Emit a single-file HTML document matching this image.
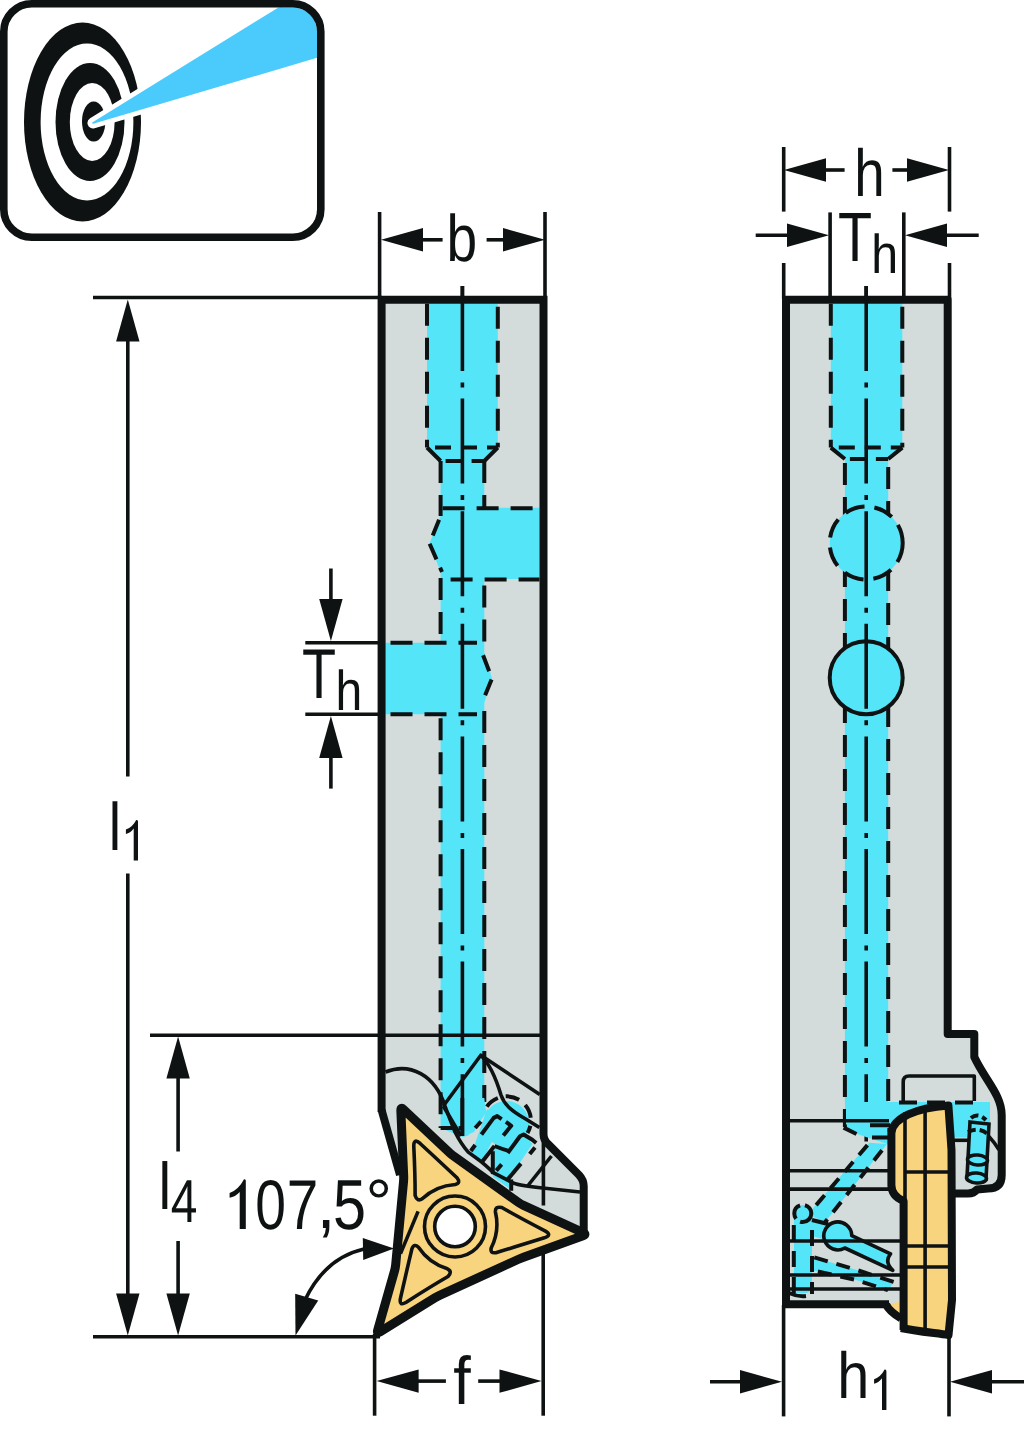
<!DOCTYPE html>
<html><head><meta charset="utf-8"><style>
html,body{margin:0;padding:0;background:#fff;overflow:hidden;}
svg{display:block;}
text{text-rendering:geometricPrecision;}
</style></head><body>
<svg width="1024" height="1431" viewBox="0 0 1024 1431">
<rect width="1024" height="1431" fill="#fff"/>
<defs><clipPath id="ic"><rect x="7.5" y="7.5" width="309.5" height="225.5" rx="24"/></clipPath></defs>
<ellipse cx="82.5" cy="122" rx="58.5" ry="99.5" fill="#0e1213"/>
<ellipse cx="87" cy="122" rx="46.4" ry="78.5" fill="#fff"/>
<ellipse cx="90" cy="122" rx="34.5" ry="59" fill="#0e1213"/>
<ellipse cx="92.2" cy="122" rx="22.4" ry="39" fill="#fff"/>
<ellipse cx="93.7" cy="121.5" rx="11.7" ry="20" fill="#0e1213"/>
<g clip-path="url(#ic)"><path d="M93.00 123.00 L292.00 0.00 L340.00 0.00 L340.00 50.30 Z" fill="#fff" stroke="#fff" stroke-width="11" stroke-linejoin="round"/><path d="M93.00 123.00 L292.00 0.00 L340.00 0.00 L340.00 50.30 Z" fill="#4bcbfc" stroke="#4bcbfc" stroke-width="1.5" stroke-linejoin="round"/></g>
<rect x="3.8" y="3.8" width="317" height="233.4" rx="28" fill="none" stroke="#0e1213" stroke-width="7.6"/>
<path d="M381.60 299.70 L543.50 299.70 L543.50 1137.00 L583.70 1178.00 L583.70 1236.00 L455.00 1226.00 L399.00 1178.00 L381.60 1112.00 Z" fill="#d4dcdb"/>
<path d="M427 303.7 L497.8 303.7 L497.8 447.5 L484.3 461 L484.3 507.7 L539.5 507.7 L539.5 579 L484.3 579 L484.3 652.5 L492 678.5 L484.3 703 L484.3 1102 L486 1112 L474 1132 L462.4 1137 L440.6 1128 L440.6 714.3 L385.5 714.3 L385.5 642.8 L440.6 642.8 L440.6 572 L429.5 543.5 L440.6 516 L440.6 461 L427 447.5 Z" fill="#55e5f8"/>
<path d="M427 303.7 L427 447.5" fill="none" stroke="#0e1213" stroke-width="4" stroke-linejoin="round" stroke-linecap="butt" stroke-dasharray="22 12" stroke-dashoffset="0"/>
<path d="M497.8 303.7 L497.8 447.5" fill="none" stroke="#0e1213" stroke-width="4" stroke-linejoin="round" stroke-linecap="butt" stroke-dasharray="22 12" stroke-dashoffset="-3"/>
<path d="M427 447.5 L497.8 447.5" fill="none" stroke="#0e1213" stroke-width="4" stroke-linejoin="round" stroke-linecap="butt" stroke-dasharray="16 10" stroke-dashoffset="-8"/>
<path d="M427 447.5 L440.6 461" fill="none" stroke="#0e1213" stroke-width="4" stroke-linejoin="round" stroke-linecap="butt"/>
<path d="M497.8 447.5 L484.3 461" fill="none" stroke="#0e1213" stroke-width="4" stroke-linejoin="round" stroke-linecap="butt"/>
<path d="M440.6 461 L484.3 461" fill="none" stroke="#0e1213" stroke-width="4" stroke-linejoin="round" stroke-linecap="butt" stroke-dasharray="16 10" stroke-dashoffset="-5"/>
<path d="M440.6 461 L440.6 516" fill="none" stroke="#0e1213" stroke-width="4" stroke-linejoin="round" stroke-linecap="butt" stroke-dasharray="22 12" stroke-dashoffset="0"/>
<path d="M484.3 461 L484.3 508.3" fill="none" stroke="#0e1213" stroke-width="4" stroke-linejoin="round" stroke-linecap="butt" stroke-dasharray="22 12" stroke-dashoffset="0"/>
<path d="M440.6 508.3 L539.5 508.3" fill="none" stroke="#0e1213" stroke-width="4" stroke-linejoin="round" stroke-linecap="butt" stroke-dasharray="22 12" stroke-dashoffset="-2"/>
<path d="M440.6 516 L429.5 543.5 L442 572" fill="none" stroke="#0e1213" stroke-width="4" stroke-linejoin="round" stroke-linecap="butt" stroke-dasharray="17 9" stroke-dashoffset="-4"/>
<path d="M440.6 579.4 L539.5 579.4" fill="none" stroke="#0e1213" stroke-width="4" stroke-linejoin="round" stroke-linecap="butt" stroke-dasharray="22 12" stroke-dashoffset="-10"/>
<path d="M440.6 572 L440.6 642.8" fill="none" stroke="#0e1213" stroke-width="4" stroke-linejoin="round" stroke-linecap="butt" stroke-dasharray="22 12" stroke-dashoffset="-6"/>
<path d="M484.3 579.4 L484.3 652.5" fill="none" stroke="#0e1213" stroke-width="4" stroke-linejoin="round" stroke-linecap="butt" stroke-dasharray="22 12" stroke-dashoffset="-6"/>
<path d="M385.5 642.8 L477 642.8" fill="none" stroke="#0e1213" stroke-width="4" stroke-linejoin="round" stroke-linecap="butt" stroke-dasharray="22 12" stroke-dashoffset="-5"/>
<path d="M482 652.5 L492 678.5 L482 703" fill="none" stroke="#0e1213" stroke-width="4" stroke-linejoin="round" stroke-linecap="butt" stroke-dasharray="17 9" stroke-dashoffset="-3"/>
<path d="M385.5 714.3 L477 714.3" fill="none" stroke="#0e1213" stroke-width="4" stroke-linejoin="round" stroke-linecap="butt" stroke-dasharray="22 12" stroke-dashoffset="-5"/>
<path d="M440.6 714.3 L440.6 1128" fill="none" stroke="#0e1213" stroke-width="4" stroke-linejoin="round" stroke-linecap="butt" stroke-dasharray="22 12" stroke-dashoffset="-4"/>
<path d="M484.3 703 L484.3 1102" fill="none" stroke="#0e1213" stroke-width="4" stroke-linejoin="round" stroke-linecap="butt" stroke-dasharray="22 12" stroke-dashoffset="-8"/>
<path d="M440.6 1128 L462 1128" fill="none" stroke="#0e1213" stroke-width="4" stroke-linejoin="round" stroke-linecap="butt" stroke-dasharray="12 6" stroke-dashoffset="0"/>
<path d="M462.4 286 L462.4 1135" fill="none" stroke="#0e1213" stroke-width="3.6" stroke-linejoin="round" stroke-linecap="butt" stroke-dasharray="85 11.5 5 11.1" stroke-dashoffset="0"/>
<line x1="150" y1="1035.2" x2="543.5" y2="1035.2" stroke="#0e1213" stroke-width="3.6" stroke-linecap="butt"/>
<circle cx="506.3" cy="1124" r="23" fill="#55e5f8"/>
<path d="M462.4 1098 L484.3 1098 L486 1113 L468.2 1135.4 L462.4 1137 Z" fill="#55e5f8"/>
<path d="M487 1109 L502 1121 L482.2 1161.5 L472 1152.5 Z" fill="#55e5f8"/>
<path d="M514 1125 L532.5 1144 L508.6 1179.4 L512 1190.5 L492.8 1176.7 L493.7 1151.2 Z" fill="#55e5f8"/>
<path d="M385.5 1072 C 410 1062, 435 1075, 445 1106 C 450 1120, 453 1127, 455 1132 Q 461.2 1144.2 468.2 1152.1 L481.4 1161.8 Q 490 1169 492.8 1172.3 L511.2 1182 Q 516 1185.5 545 1188.2 L580 1192" fill="none" stroke="#0e1213" stroke-width="3.6" stroke-linejoin="round" stroke-linecap="butt"/>
<path d="M443.3 1106 L480.8 1055.2 L539.8 1094.6" fill="none" stroke="#0e1213" stroke-width="3.6" stroke-linejoin="round" stroke-linecap="butt"/>
<line x1="443.3" y1="1106" x2="461" y2="1136" stroke="#0e1213" stroke-width="3.6" stroke-linecap="butt"/>
<path d="M480.8 1055.2 C 492 1066, 498 1085, 501 1095 C 504 1104, 510 1110, 525.3 1118.7 L539.4 1127.5" fill="none" stroke="#0e1213" stroke-width="3.6" stroke-linejoin="round" stroke-linecap="butt"/>
<path d="M485.8 1108.2 A23 23 0 0 1 527.5 1133" fill="none" stroke="#0e1213" stroke-width="4" stroke-linejoin="round" stroke-linecap="butt" stroke-dasharray="14 8" stroke-dashoffset="-2"/>
<path d="M481.4 1134.5 L493.7 1117.9 L497.2 1116.1 L507.7 1123.1 L511.2 1125.8 L503.3 1135.4" fill="none" stroke="#0e1213" stroke-width="4" stroke-linejoin="round" stroke-linecap="butt" stroke-dasharray="30 5 40" stroke-dashoffset="0"/>
<path d="M507.7 1153 L520 1136.3 L523.6 1134.5 L532.3 1139.8 L537.6 1144.2 L529.7 1153.9" fill="none" stroke="#0e1213" stroke-width="4" stroke-linejoin="round" stroke-linecap="butt" stroke-dasharray="40 6 20" stroke-dashoffset="0"/>
<path d="M494.5 1146 Q 502 1149 509.5 1151.2" fill="none" stroke="#0e1213" stroke-width="4" stroke-linejoin="round" stroke-linecap="butt"/>
<path d="M494.5 1146 L482.2 1161.8" fill="none" stroke="#0e1213" stroke-width="4" stroke-linejoin="round" stroke-linecap="butt"/>
<path d="M475.2 1128 L481 1121.5" fill="none" stroke="#0e1213" stroke-width="4" stroke-linejoin="round" stroke-linecap="butt"/>
<path d="M470.8 1151 L475.2 1145" fill="none" stroke="#0e1213" stroke-width="4" stroke-linejoin="round" stroke-linecap="butt"/>
<line x1="492.8" y1="1151.2" x2="492.8" y2="1174.1" stroke="#0e1213" stroke-width="4" stroke-linecap="butt"/>
<path d="M496.3 1170.6 L501.6 1164.4" fill="none" stroke="#0e1213" stroke-width="4" stroke-linejoin="round" stroke-linecap="butt"/>
<path d="M520.9 1163.6 L507.7 1179.4" fill="none" stroke="#0e1213" stroke-width="4" stroke-linejoin="round" stroke-linecap="butt"/>
<line x1="511.2" y1="1179.4" x2="511.2" y2="1190.8" stroke="#0e1213" stroke-width="4" stroke-linecap="butt"/>
<path d="M462.4 1098 L462.4 1136" fill="none" stroke="#0e1213" stroke-width="4" stroke-linejoin="round" stroke-linecap="butt"/>
<line x1="543.4" y1="1130" x2="543.4" y2="1205.5" stroke="#0e1213" stroke-width="3.6" stroke-linecap="butt"/>
<line x1="528" y1="1185.5" x2="551.5" y2="1156" stroke="#0e1213" stroke-width="3.6" stroke-linecap="butt"/>
<path d="M381.6 1112 L381.6 299.7 L543.5 299.7 L543.5 1134 Q543.5 1140 548 1144 L579 1175 Q583.7 1180 583.7 1186 L583.7 1236" fill="none" stroke="#0e1213" stroke-width="8" stroke-linejoin="miter" stroke-linecap="butt"/>
<path d="M381.6 1110 L400 1175" fill="none" stroke="#0e1213" stroke-width="8" stroke-linejoin="round" stroke-linecap="butt"/>
<line x1="93" y1="297.5" x2="381.6" y2="297.5" stroke="#0e1213" stroke-width="3.6" stroke-linecap="butt"/>
<path d="M127.80 299.50 L139.50 341.50 L116.10 341.50 Z" fill="#0e1213"/>
<line x1="127.8" y1="340" x2="127.8" y2="776.5" stroke="#0e1213" stroke-width="3.6" stroke-linecap="butt"/>
<line x1="127.8" y1="873.6" x2="127.8" y2="1296" stroke="#0e1213" stroke-width="3.6" stroke-linecap="butt"/>
<path d="M127.80 1335.50 L116.10 1293.50 L139.50 1293.50 Z" fill="#0e1213"/>
<line x1="93" y1="1336.8" x2="380" y2="1336.8" stroke="#0e1213" stroke-width="3.6" stroke-linecap="butt"/>
<path d="M178.10 1036.50 L189.80 1078.50 L166.40 1078.50 Z" fill="#0e1213"/>
<line x1="178.1" y1="1077" x2="178.1" y2="1151.5" stroke="#0e1213" stroke-width="3.6" stroke-linecap="butt"/>
<line x1="178.1" y1="1241" x2="178.1" y2="1294" stroke="#0e1213" stroke-width="3.6" stroke-linecap="butt"/>
<path d="M178.10 1335.50 L166.40 1293.50 L189.80 1293.50 Z" fill="#0e1213"/>
<line x1="379.6" y1="212" x2="379.6" y2="299" stroke="#0e1213" stroke-width="3.6" stroke-linecap="butt"/>
<line x1="545" y1="212" x2="545" y2="299" stroke="#0e1213" stroke-width="3.6" stroke-linecap="butt"/>
<line x1="462.4" y1="286" x2="462.4" y2="300" stroke="#0e1213" stroke-width="3.6" stroke-linecap="butt"/>
<path d="M381.00 239.80 L423.00 228.10 L423.00 251.50 Z" fill="#0e1213"/>
<line x1="420" y1="239.8" x2="442.6" y2="239.8" stroke="#0e1213" stroke-width="3.6" stroke-linecap="butt"/>
<path d="M545.00 239.80 L503.00 251.50 L503.00 228.10 Z" fill="#0e1213"/>
<line x1="486.6" y1="239.8" x2="505" y2="239.8" stroke="#0e1213" stroke-width="3.6" stroke-linecap="butt"/>
<line x1="305.3" y1="642.8" x2="381" y2="642.8" stroke="#0e1213" stroke-width="3.6" stroke-linecap="butt"/>
<line x1="305.3" y1="714.3" x2="381" y2="714.3" stroke="#0e1213" stroke-width="3.6" stroke-linecap="butt"/>
<line x1="330.9" y1="568.5" x2="330.9" y2="602" stroke="#0e1213" stroke-width="3.6" stroke-linecap="butt"/>
<path d="M330.90 641.00 L319.20 599.00 L342.60 599.00 Z" fill="#0e1213"/>
<line x1="330.9" y1="755" x2="330.9" y2="788.6" stroke="#0e1213" stroke-width="3.6" stroke-linecap="butt"/>
<path d="M330.90 716.00 L342.60 758.00 L319.20 758.00 Z" fill="#0e1213"/>
<line x1="374.6" y1="1334" x2="374.6" y2="1415.7" stroke="#0e1213" stroke-width="3.6" stroke-linecap="butt"/>
<line x1="543.2" y1="1240" x2="543.2" y2="1415.7" stroke="#0e1213" stroke-width="3.6" stroke-linecap="butt"/>
<path d="M376.60 1381.10 L418.60 1369.40 L418.60 1392.80 Z" fill="#0e1213"/>
<line x1="415" y1="1381.1" x2="445.9" y2="1381.1" stroke="#0e1213" stroke-width="3.6" stroke-linecap="butt"/>
<path d="M541.50 1381.10 L499.50 1392.80 L499.50 1369.40 Z" fill="#0e1213"/>
<line x1="478.2" y1="1381.1" x2="502" y2="1381.1" stroke="#0e1213" stroke-width="3.6" stroke-linecap="butt"/>
<path d="M364 1249 Q 325 1258 305 1300" fill="none" stroke="#0e1213" stroke-width="3.6" stroke-linejoin="round" stroke-linecap="butt"/>
<path d="M394.00 1248.50 L363.23 1260.12 L362.79 1238.12 Z" fill="#0e1213"/>
<path d="M295.50 1335.50 L295.18 1293.74 L318.22 1300.46 Z" fill="#0e1213"/>
<path d="M583.13 1232.66 Q586.77 1234.33 583.01 1235.69 L523.54 1257.25 Q520.72 1258.27 517.99 1259.52 L440.07 1295.06 Q437.34 1296.30 434.79 1297.88 L379.98 1331.93 Q376.58 1334.04 377.67 1330.20 L394.58 1270.66 Q395.39 1267.77 395.68 1264.79 L403.52 1181.75 Q403.81 1178.76 403.68 1175.76 L400.85 1110.74 Q400.68 1106.75 403.59 1109.48 L449.82 1152.91 Q452.00 1154.96 454.44 1156.71 L518.35 1202.36 Q520.79 1204.10 523.52 1205.35 Z" fill="#f9d47f" stroke="#0e1213" stroke-width="9" stroke-linejoin="round" stroke-linecap="butt"/>
<circle cx="455" cy="1226.5" r="30.5" fill="none" stroke="#0e1213" stroke-width="3.6"/>
<circle cx="455" cy="1226.5" r="20.3" fill="#fff" stroke="#0e1213" stroke-width="3.6"/>
<path d="M45 -23 Q 62 -15 90 -3.5 Q 98 0 90 3.5 Q 62 15 43 22.5 Q 37 24 38 18 Q 45 0 39 -18 Q 38 -24 45 -23 Z" fill="none" stroke="#0e1213" stroke-width="3.6" stroke-linejoin="round" transform="translate(455,1226.5) rotate(5)"/>
<path d="M45 -23 Q 62 -15 90 -3.5 Q 98 0 90 3.5 Q 62 15 43 22.5 Q 37 24 38 18 Q 45 0 39 -18 Q 38 -24 45 -23 Z" fill="none" stroke="#0e1213" stroke-width="3.6" stroke-linejoin="round" transform="translate(455,1226.5) rotate(125)"/>
<path d="M45 -23 Q 62 -15 90 -3.5 Q 98 0 90 3.5 Q 62 15 43 22.5 Q 37 24 38 18 Q 45 0 39 -18 Q 38 -24 45 -23 Z" fill="none" stroke="#0e1213" stroke-width="3.6" stroke-linejoin="round" transform="translate(455,1226.5) rotate(245)"/>
<line x1="418.1" y1="1211.4" x2="400.5" y2="1253.6" stroke="#0e1213" stroke-width="3.6" stroke-linecap="butt"/>
<path d="M786 299.7 L947.7 299.7 L947.7 1034 L974.3 1034 L974.3 1057 C 985 1080, 1001.7 1095, 1001.7 1115 L1001.7 1177 Q1001.7 1189 990 1189 L974 1190 L930 1193 L930 1305 L786 1305 Z" fill="#d4dcdb"/>
<path d="M830.8 303.7 L902.3 303.7 L902.3 447.6 L888.2 459 L888.2 1127 L857 1133 L844.9 1127 L844.9 459 L830.8 447.6 Z" fill="#55e5f8"/>
<path d="M830.8 303.7 L830.8 447.6" fill="none" stroke="#0e1213" stroke-width="4" stroke-linejoin="round" stroke-linecap="butt" stroke-dasharray="22 12" stroke-dashoffset="0"/>
<path d="M902.3 303.7 L902.3 447.6" fill="none" stroke="#0e1213" stroke-width="4" stroke-linejoin="round" stroke-linecap="butt" stroke-dasharray="22 12" stroke-dashoffset="-3"/>
<path d="M830.8 447.6 L844.9 459 M902.3 447.6 L888.2 459" fill="none" stroke="#0e1213" stroke-width="4" stroke-linejoin="round" stroke-linecap="butt"/>
<path d="M830.8 447.6 L902.3 447.6" fill="none" stroke="#0e1213" stroke-width="4" stroke-linejoin="round" stroke-linecap="butt" stroke-dasharray="16 10" stroke-dashoffset="-8"/>
<path d="M844.9 459 L888.2 459" fill="none" stroke="#0e1213" stroke-width="4" stroke-linejoin="round" stroke-linecap="butt" stroke-dasharray="16 10" stroke-dashoffset="-5"/>
<path d="M844.9 459 L844.9 1127" fill="none" stroke="#0e1213" stroke-width="4" stroke-linejoin="round" stroke-linecap="butt" stroke-dasharray="22 12" stroke-dashoffset="-4"/>
<path d="M888.2 459 L888.2 1102" fill="none" stroke="#0e1213" stroke-width="4" stroke-linejoin="round" stroke-linecap="butt" stroke-dasharray="22 12" stroke-dashoffset="-8"/>
<circle cx="866.2" cy="543" r="36.5" fill="#55e5f8" stroke="#0e1213" stroke-width="4" stroke-dasharray="20 10"/>
<circle cx="866.2" cy="677.7" r="36.5" fill="#55e5f8" stroke="#0e1213" stroke-width="4"/>
<path d="M866.2 286 L866.2 1141.6" fill="none" stroke="#0e1213" stroke-width="3.6" stroke-linejoin="round" stroke-linecap="butt" stroke-dasharray="85 11.5 5 11.1" stroke-dashoffset="0"/>
<path d="M846 1102 L990 1102 L990 1137.6 L951 1137.6 L887 1144 L857 1134 L846 1124 Z" fill="#55e5f8"/>
<path d="M869.4 1142.8 L887 1144 L824.8 1222.5 L808 1214 Z" fill="#55e5f8"/>
<path d="M794 1210 L812 1210 L812 1290 Q 805 1296 794 1292 Z" fill="#55e5f8"/>
<path d="M812 1218 L830 1226 L826 1240 L812 1236 Z" fill="#55e5f8"/>
<path d="M814.3 1257.4 L857.7 1270.3 L894 1282 L888 1290.2 L855.3 1279.7 L812 1270.3 Z" fill="#55e5f8"/>
<path d="M869.4 1142.8 L814.3 1207.3" fill="none" stroke="#0e1213" stroke-width="4" stroke-linejoin="round" stroke-linecap="butt" stroke-dasharray="13 9" stroke-dashoffset="-3"/>
<path d="M887 1144 L824.8 1222.5" fill="none" stroke="#0e1213" stroke-width="4" stroke-linejoin="round" stroke-linecap="butt" stroke-dasharray="13 9" stroke-dashoffset="-8"/>
<path d="M843.6 1127.6 L856.5 1134" fill="none" stroke="#0e1213" stroke-width="4" stroke-linejoin="round" stroke-linecap="butt"/>
<path d="M870 1125.2 L890 1125.2 M 872 1137.5 L888 1137.5" fill="none" stroke="#0e1213" stroke-width="4" stroke-linejoin="round" stroke-linecap="butt"/>
<circle cx="802.8" cy="1213.5" r="8.5" fill="#55e5f8" stroke="#0e1213" stroke-width="4" stroke-dasharray="16 5"/>
<path d="M793.8 1225 L793.8 1293" fill="none" stroke="#0e1213" stroke-width="4" stroke-linejoin="round" stroke-linecap="butt" stroke-dasharray="16 10" stroke-dashoffset="0"/>
<path d="M812 1224 L812 1294" fill="none" stroke="#0e1213" stroke-width="4" stroke-linejoin="round" stroke-linecap="butt" stroke-dasharray="16 10" stroke-dashoffset="-6"/>
<path d="M812 1220 L828 1224" fill="none" stroke="#0e1213" stroke-width="4" stroke-linejoin="round" stroke-linecap="butt"/>
<path d="M814.3 1257.4 L857.7 1270.3 L894 1282" fill="none" stroke="#0e1213" stroke-width="4" stroke-linejoin="round" stroke-linecap="butt" stroke-dasharray="14 9" stroke-dashoffset="0"/>
<path d="M812 1270.3 L855.3 1279.7 L888 1290.2" fill="none" stroke="#0e1213" stroke-width="4" stroke-linejoin="round" stroke-linecap="butt" stroke-dasharray="14 9" stroke-dashoffset="-6"/>
<path d="M789 1293 Q 798 1297 806 1296" fill="none" stroke="#0e1213" stroke-width="4" stroke-linejoin="round" stroke-linecap="butt"/>
<path d="M851.8 1235.7 L890.5 1253.9 Q 884 1262 892.8 1270.3 L844.8 1248 A 14 14 0 1 1 851.8 1235.7 Z" fill="#55e5f8" stroke="#0e1213" stroke-width="3.6" stroke-linejoin="round"/>
<line x1="789" y1="1120.8" x2="889" y2="1120.8" stroke="#0e1213" stroke-width="3.6" stroke-linecap="butt"/>
<line x1="789" y1="1170.7" x2="889" y2="1170.7" stroke="#0e1213" stroke-width="3.6" stroke-linecap="butt"/>
<line x1="789" y1="1189.1" x2="889" y2="1189.1" stroke="#0e1213" stroke-width="3.6" stroke-linecap="butt"/>
<line x1="789" y1="1241" x2="901" y2="1241" stroke="#0e1213" stroke-width="3.6" stroke-linecap="butt"/>
<line x1="789" y1="1275" x2="901" y2="1275" stroke="#0e1213" stroke-width="3.6" stroke-linecap="butt"/>
<line x1="789" y1="1289" x2="901" y2="1289" stroke="#0e1213" stroke-width="3.6" stroke-linecap="butt"/>
<path d="M903.2 1101.4 L903.2 1082 Q903.2 1076 909 1076 L974.3 1076 L974.3 1101" fill="none" stroke="#0e1213" stroke-width="3.6" stroke-linejoin="round" stroke-linecap="butt"/>
<path d="M899 1102.4 L977 1102.4" fill="none" stroke="#0e1213" stroke-width="4" stroke-linejoin="round" stroke-linecap="butt" stroke-dasharray="18 10" stroke-dashoffset="0"/>
<line x1="954" y1="1140.3" x2="978" y2="1140.3" stroke="#0e1213" stroke-width="3.6" stroke-linecap="butt"/>
<path d="M978.4 1128 Q 990 1135 999 1149.9" fill="none" stroke="#0e1213" stroke-width="3.6" stroke-linejoin="round" stroke-linecap="butt"/>
<path d="M970 1122 L989 1124 L986 1179 L967 1177 Z" fill="#55e5f8" stroke="#0e1213" stroke-width="3.6"/>
<ellipse cx="976.5" cy="1178" rx="10" ry="5" fill="#55e5f8" stroke="#0e1213" stroke-width="3.6" transform="rotate(4 976.5 1178)"/>
<ellipse cx="977.5" cy="1160" rx="10" ry="5" fill="#55e5f8" stroke="#0e1213" stroke-width="3.6" transform="rotate(4 977.5 1160)"/>
<path d="M971 1118 Q 978 1112 986 1120 M 968 1132 Q 980 1126 990 1136" fill="none" stroke="#0e1213" stroke-width="4" stroke-linejoin="round" stroke-linecap="butt" stroke-dasharray="8 4" stroke-dashoffset="0"/>
<path d="M891.4 1132 C 894 1118, 915 1108, 948.4 1105.5 L951.5 1150 L952 1300 L948.5 1335 C 935 1333, 915 1331, 901 1328 L901 1320 L888 1305 L903.6 1300 L903.6 1201 C 896 1198, 891.4 1195, 891.4 1185 Z" fill="#f9d47f"/>
<line x1="925.1" y1="1108" x2="925.1" y2="1333" stroke="#0e1213" stroke-width="3.6" stroke-linecap="butt"/>
<line x1="905" y1="1172" x2="951" y2="1172" stroke="#0e1213" stroke-width="3.6" stroke-linecap="butt"/>
<line x1="903.6" y1="1246" x2="951" y2="1246" stroke="#0e1213" stroke-width="3.6" stroke-linecap="butt"/>
<line x1="903.6" y1="1267" x2="951" y2="1267" stroke="#0e1213" stroke-width="3.6" stroke-linecap="butt"/>
<path d="M905 1112 L905 1200" fill="none" stroke="#0e1213" stroke-width="3.6" stroke-linejoin="round" stroke-linecap="butt"/>
<path d="M891.4 1132 C 894 1118, 915 1108, 948.4 1105.5 L951.5 1150 L952 1300 L948.5 1335 C 935 1333, 915 1331, 901 1328" fill="none" stroke="#0e1213" stroke-width="8" stroke-linejoin="round" stroke-linecap="butt"/>
<path d="M891.4 1128 L891.4 1185 Q 891.4 1196 903.6 1201 L903.6 1330" fill="none" stroke="#0e1213" stroke-width="8" stroke-linejoin="round" stroke-linecap="butt"/>
<path d="M886 1304.3 Q 889 1311 901 1318.4" fill="none" stroke="#0e1213" stroke-width="8" stroke-linejoin="round" stroke-linecap="butt"/>
<path d="M786 1305 L786 299.7 L947.7 299.7 L947.7 1034 L974.3 1034 L974.3 1057 C 985 1080, 1001.7 1095, 1001.7 1115 L1001.7 1175 Q1001.7 1188.5 988 1188.5 L977 1189.5 Q 974 1193.5 968 1193.5 L955 1193.5" fill="none" stroke="#0e1213" stroke-width="8" stroke-linejoin="round" stroke-linecap="butt"/>
<path d="M782 1304.3 L889 1304.3" fill="none" stroke="#0e1213" stroke-width="8" stroke-linejoin="round" stroke-linecap="butt"/>
<line x1="783.7" y1="147" x2="783.7" y2="211.6" stroke="#0e1213" stroke-width="3.6" stroke-linecap="butt"/>
<line x1="949.5" y1="147" x2="949.5" y2="211.6" stroke="#0e1213" stroke-width="3.6" stroke-linecap="butt"/>
<line x1="783.7" y1="263" x2="783.7" y2="299" stroke="#0e1213" stroke-width="3.6" stroke-linecap="butt"/>
<line x1="949.5" y1="263" x2="949.5" y2="299" stroke="#0e1213" stroke-width="3.6" stroke-linecap="butt"/>
<path d="M784.00 170.00 L826.00 158.30 L826.00 181.70 Z" fill="#0e1213"/>
<line x1="825" y1="170" x2="844.6" y2="170" stroke="#0e1213" stroke-width="3.6" stroke-linecap="butt"/>
<path d="M949.00 170.00 L907.00 181.70 L907.00 158.30 Z" fill="#0e1213"/>
<line x1="892.4" y1="170" x2="910" y2="170" stroke="#0e1213" stroke-width="3.6" stroke-linecap="butt"/>
<line x1="830.1" y1="212.4" x2="830.1" y2="300" stroke="#0e1213" stroke-width="3.6" stroke-linecap="butt"/>
<line x1="903.8" y1="212.4" x2="903.8" y2="300" stroke="#0e1213" stroke-width="3.6" stroke-linecap="butt"/>
<line x1="866.2" y1="286" x2="866.2" y2="300" stroke="#0e1213" stroke-width="3.6" stroke-linecap="butt"/>
<line x1="755.7" y1="235.2" x2="792" y2="235.2" stroke="#0e1213" stroke-width="3.6" stroke-linecap="butt"/>
<path d="M829.00 235.20 L787.00 246.90 L787.00 223.50 Z" fill="#0e1213"/>
<line x1="945" y1="235.2" x2="978.7" y2="235.2" stroke="#0e1213" stroke-width="3.6" stroke-linecap="butt"/>
<path d="M905.00 235.20 L947.00 223.50 L947.00 246.90 Z" fill="#0e1213"/>
<line x1="783.6" y1="1305" x2="783.6" y2="1416.4" stroke="#0e1213" stroke-width="3.6" stroke-linecap="butt"/>
<line x1="949" y1="1335" x2="949" y2="1416.4" stroke="#0e1213" stroke-width="3.6" stroke-linecap="butt"/>
<line x1="710" y1="1381.7" x2="745" y2="1381.7" stroke="#0e1213" stroke-width="3.6" stroke-linecap="butt"/>
<path d="M782.00 1381.70 L740.00 1393.40 L740.00 1370.00 Z" fill="#0e1213"/>
<line x1="990" y1="1381.7" x2="1024" y2="1381.7" stroke="#0e1213" stroke-width="3.6" stroke-linecap="butt"/>
<path d="M950.00 1381.70 L992.00 1370.00 L992.00 1393.40 Z" fill="#0e1213"/>
<path d="M138 860.5 L138 821.3 Q137.6 819.8 136.2 820.0 Q132.70 827.15 125.9 829.60 L125.9 834.00 Q130.19 833.40 133.70 828.60 L133.70 860.5 Z" fill="#0e1213"/>
<path d="M245.8 1228.9 L245.8 1180.6 Q245.4 1179.1 244.0 1179.3 Q238.70 1189.60 229.6 1193.10 L229.6 1197.70 Q235.16 1197.10 239.70 1192.10 L239.70 1228.9 Z" fill="#0e1213"/>
<path d="M886.4 1410 L886.4 1370.9 Q886.0 1369.4 884.6 1369.6000000000001 Q881.00 1376.83 874.1 1379.30 L874.1 1383.70 Q878.45 1383.10 882.00 1378.30 L882.00 1410 Z" fill="#0e1213"/>
<g font-family="Liberation Sans, sans-serif"><text transform="translate(446.42,261.14) scale(0.837,1)" font-size="65.85" fill="#0e1213">b</text>
<text transform="translate(301.88,697.60) scale(0.790,1)" font-size="70.58" fill="#0e1213">T</text>
<text transform="translate(335.43,709.50) scale(0.853,1)" font-size="56.41" fill="#0e1213">h</text>
<text transform="translate(108.69,849.50) scale(0.825,1)" font-size="67.31" fill="#0e1213">l</text>
<text transform="translate(158.62,1209.00) scale(0.856,1)" font-size="66.21" fill="#0e1213">l</text>
<text transform="translate(170.74,1221.90) scale(0.789,1)" font-size="60.72" fill="#0e1213">4</text>
<text transform="translate(255.19,1229.10) scale(0.787,1)" font-size="70.14" fill="#0e1213">0</text>
<text transform="translate(286.86,1228.90) scale(0.805,1)" font-size="70.43" fill="#0e1213">7</text>
<text transform="translate(316.87,1228.42) scale(0.900,1)" font-size="74.47" fill="#0e1213">,</text>
<text transform="translate(333.03,1229.09) scale(0.840,1)" font-size="70.71" fill="#0e1213">5</text>
<text transform="translate(365.41,1224.85) scale(1.016,1)" font-size="65.36" fill="#0e1213">°</text>
<text transform="translate(453.35,1404.00) scale(0.932,1)" font-size="67.59" fill="#0e1213">f</text>
<text transform="translate(854.17,195.90) scale(0.822,1)" font-size="66.62" fill="#0e1213">h</text>
<text transform="translate(837.88,260.60) scale(0.799,1)" font-size="69.86" fill="#0e1213">T</text>
<text transform="translate(871.22,272.60) scale(0.878,1)" font-size="55.03" fill="#0e1213">h</text>
<text transform="translate(837.27,1397.50) scale(0.883,1)" font-size="65.24" fill="#0e1213">h</text></g>
</svg>
</body></html>
